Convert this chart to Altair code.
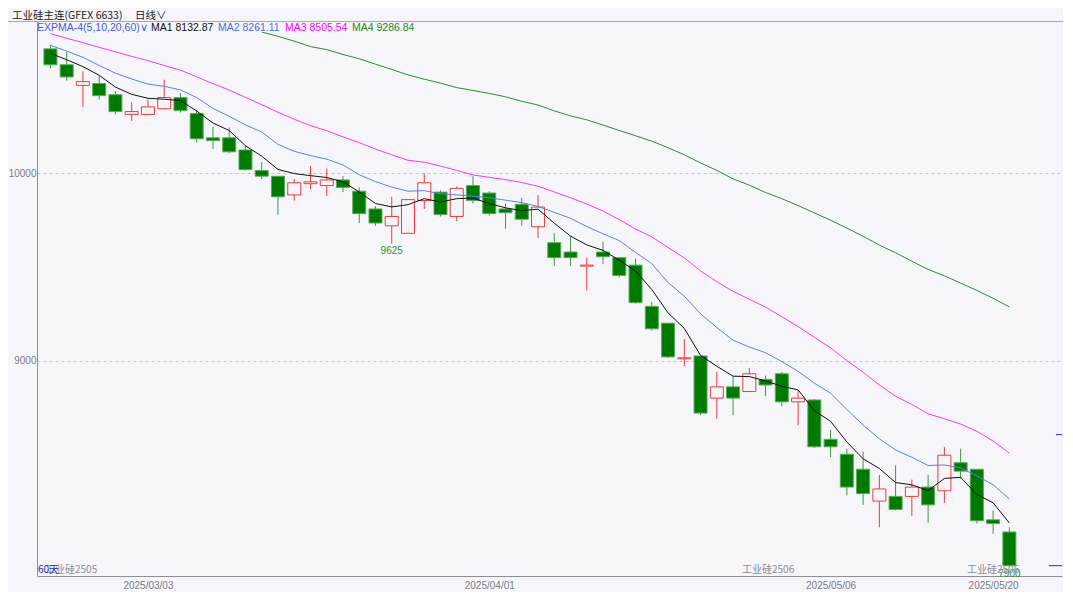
import altair as alt
import pandas as pd

# ---------------- data ----------------
dates = [
    "2025/02/21", "2025/02/24", "2025/02/25", "2025/02/26", "2025/02/27", "2025/02/28",
    "2025/03/03", "2025/03/04", "2025/03/05", "2025/03/06", "2025/03/07",
    "2025/03/10", "2025/03/11", "2025/03/12", "2025/03/13", "2025/03/14",
    "2025/03/17", "2025/03/18", "2025/03/19", "2025/03/20", "2025/03/21",
    "2025/03/24", "2025/03/25", "2025/03/26", "2025/03/27", "2025/03/28", "2025/03/31",
    "2025/04/01", "2025/04/02", "2025/04/03",
    "2025/04/07", "2025/04/08", "2025/04/09", "2025/04/10", "2025/04/11",
    "2025/04/14", "2025/04/15", "2025/04/16", "2025/04/17", "2025/04/18",
    "2025/04/21", "2025/04/22", "2025/04/23", "2025/04/24", "2025/04/25",
    "2025/04/28", "2025/04/29", "2025/04/30",
    "2025/05/06", "2025/05/07", "2025/05/08", "2025/05/09",
    "2025/05/12", "2025/05/13", "2025/05/14", "2025/05/15", "2025/05/16",
    "2025/05/19", "2025/05/20", "2025/05/21",
]

opens = [10665, 10580, 10470, 10480, 10420, 10315, 10315, 10345, 10405, 10320,
         10190, 10190, 10125, 10015, 9985, 9885, 9945, 9935, 9965, 9905,
         9810, 9720, 9680, 9855, 9900, 9770, 9935, 9895, 9810, 9835,
         9715, 9630, 9580, 9505, 9580, 9550, 9510, 9290, 9200, 9010,
         9025, 8800, 8860, 8835, 8900, 8930, 8780, 8790, 8580, 8500,
         8420, 8250, 8275, 8275, 8325, 8305, 8455, 8420, 8150, 8085]
highs = [10685, 10650, 10545, 10520, 10440, 10380, 10395, 10500, 10430, 10340,
         10250, 10245, 10150, 10060, 9985, 9970, 10040, 10025, 9985, 9925,
         9825, 9875, 9860, 10000, 9910, 9930, 9985, 9905, 9840, 9870,
         9885, 9680, 9665, 9550, 9635, 9550, 9545, 9315, 9200, 9115,
         9025, 8940, 8915, 8960, 8920, 8940, 8840, 8795, 8630, 8530,
         8515, 8390, 8440, 8365, 8390, 8540, 8530, 8420, 8200, 8110]
lows = [10560, 10495, 10355, 10395, 10315, 10280, 10315, 10345, 10325, 10165,
        10130, 10110, 10015, 9970, 9780, 9855, 9915, 9880, 9900, 9735,
        9720, 9625, 9680, 9810, 9770, 9745, 9840, 9775, 9705, 9720,
        9655, 9505, 9505, 9375, 9515, 9445, 9305, 9160, 9015, 8970,
        8710, 8690, 8710, 8835, 8810, 8755, 8655, 8535, 8485, 8280,
        8230, 8110, 8200, 8170, 8135, 8240, 8370, 8130, 8075, 7900]
closes = [10580, 10515, 10490, 10415, 10330, 10330, 10355, 10405, 10335, 10185,
          10175, 10115, 10020, 9985, 9875, 9950, 9955, 9965, 9925, 9785,
          9735, 9770, 9860, 9950, 9780, 9920, 9855, 9785, 9790, 9755,
          9820, 9550, 9550, 9510, 9555, 9455, 9310, 9170, 9020, 9015,
          8720, 8860, 8800, 8930, 8870, 8780, 8800, 8540, 8540, 8325,
          8290, 8315, 8205, 8325, 8230, 8495, 8410, 8145, 8130, 7905]

ema5 = [10641, 10607, 10570, 10524, 10461, 10422, 10401, 10396, 10389, 10333,
        10269, 10229, 10148, 10092, 10021, 9999, 9988, 9978, 9955, 9901,
        9839, 9821, 9833, 9865, 9847, 9865, 9868, 9839, 9816, 9801,
        9809, 9734, 9665, 9618, 9589, 9536, 9479, 9380, 9255, 9172,
        9028, 8970, 8917, 8915, 8892, 8863, 8844, 8733, 8676, 8566,
        8476, 8424, 8349, 8337, 8306, 8371, 8377, 8285, 8241, 8132.87]
ema10 = [10684, 10653, 10620, 10576, 10535, 10504, 10477, 10465, 10446, 10405,
         10347, 10305, 10259, 10221, 10155, 10118, 10095, 10076, 10045, 9993,
         9956, 9927, 9905, 9908, 9891, 9885, 9878, 9870, 9857, 9844,
         9823, 9792, 9760, 9716, 9677, 9641, 9578, 9518, 9417, 9344,
         9250, 9177, 9109, 9073, 9042, 8995, 8943, 8880, 8826, 8740,
         8656, 8583, 8523, 8484, 8440, 8443, 8427, 8385, 8337, 8261.11]
ema20 = [10746, 10722, 10698, 10673, 10649, 10625, 10602, 10576, 10551, 10516,
         10479, 10445, 10406, 10367, 10326, 10289, 10255, 10228, 10195, 10164,
         10130, 10099, 10070, 10060, 10039, 10016, 9992, 9979, 9967, 9951,
         9931, 9901, 9870, 9836, 9799, 9753, 9703, 9661, 9604, 9549,
         9479, 9422, 9370, 9328, 9286, 9234, 9182, 9125, 9068, 9000,
         8938, 8870, 8810, 8766, 8716, 8690, 8661, 8623, 8571, 8505.54]
ema60_start = 13
ema60_visible = [10755, 10732, 10706, 10677, 10661, 10635, 10612, 10583, 10555, 10526,
                 10503, 10482, 10458, 10443, 10427, 10409, 10385, 10365, 10334, 10307,
                 10286, 10258, 10229, 10201, 10172, 10137, 10099, 10056, 10016, 9971,
                 9937, 9898, 9865, 9828, 9789, 9750, 9708, 9664, 9617, 9576,
                 9531, 9487, 9453, 9414, 9375, 9333, 9286.84]

y_ticks = [9000, 10000]
tick_dates = ["2025/03/03", "2025/04/01", "2025/05/06", "2025/05/20"]
low_marks = [21, 59]
contract_labels = ["工业硅2505", "工业硅2506", "工业硅2506"]
right_marks = [8605, 7905]

# ---------------- styling ----------------
BG = "#f5f5fa"
RED = "#f03a3a"
GREEN_FILL = "#007a00"
GREEN_EDGE = "#5aaa5a"
GREEN_WICK = "#3d983d"
C_EMA5 = "#111111"
C_EMA10 = "#5a7ff0"
C_EMA20 = "#ff33ff"
C_EMA60 = "#2e8b2e"
GRAY_TXT = "#7c7c84"
AXIS_GRAY = "#8e8e96"

PLOT_W = 1025
PLOT_H = 544

n = len(dates)
df = pd.DataFrame({
    "i": list(range(n)),
    "date": dates,
    "open": opens, "high": highs, "low": lows, "close": closes,
    "dir": ["up" if c > o else "down" for o, c in zip(opens, closes)],
    "ema5": ema5, "ema10": ema10, "ema20": ema20,
    "ema60": [None] * ema60_start + ema60_visible,
})

tick_idx = [dates.index(d) for d in tick_dates]
label_expr = "".join(f"datum.value == {k} ? '{d}' : " for k, d in zip(tick_idx, tick_dates)) + "''"

xs = alt.Scale(domain=[-0.518, 61.93], nice=False, zero=False)
ys = alt.Scale(domain=[7850, 10755], nice=False, zero=False)

x_axis = alt.Axis(values=tick_idx, labelExpr=label_expr, grid=False, ticks=False,
                  domain=True, domainColor=AXIS_GRAY, labelColor=GRAY_TXT,
                  labelFont="Liberation Sans", labelFontSize=10, labelPadding=4,
                  title=None, labelFlush=False)
y_axis = alt.Axis(values=y_ticks, format="d", grid=True, gridColor="#c6c6ce", gridDash=[3, 3],
                  ticks=False, domain=False, labelColor=GRAY_TXT,
                  labelFont="Liberation Sans", labelFontSize=10, labelPadding=1, title=None)

X = alt.X("i:Q", scale=xs, axis=x_axis)


def Y(field):
    return alt.Y(f"{field}:Q", scale=ys, axis=y_axis)


base = alt.Chart(df)

wicks = base.mark_rule(strokeWidth=1).encode(
    x=X, y=Y("low"), y2="high:Q",
    color=alt.Color("dir:N", scale=alt.Scale(domain=["up", "down"], range=[RED, GREEN_WICK]), legend=None),
)
bodies = base.mark_bar(size=13, strokeWidth=1).encode(
    x=X, y=Y("open"), y2="close:Q",
    fill=alt.Fill("dir:N", scale=alt.Scale(domain=["up", "down"], range=[BG, GREEN_FILL]), legend=None),
    stroke=alt.Stroke("dir:N", scale=alt.Scale(domain=["up", "down"], range=[RED, GREEN_EDGE]), legend=None),
)

lines = [
    base.mark_line(color=col, strokeWidth=1, clip=True).encode(x=X, y=Y(name))
    for name, col in [("ema60", C_EMA60), ("ema20", C_EMA20), ("ema10", C_EMA10), ("ema5", C_EMA5)]
]

lowlab_df = pd.DataFrame({"i": low_marks, "v": [lows[k] for k in low_marks],
                          "t": [str(lows[k]) for k in low_marks]})
low_labels = alt.Chart(lowlab_df).mark_text(
    baseline="middle", align="center", dy=7, color="#2f8f2f",
    font="Liberation Sans", fontSize=10).encode(x=X, y=Y("v"), text="t:N")

rm_df = pd.DataFrame({"v": right_marks})
rmark_hi = alt.Chart(rm_df.iloc[:1]).mark_rule(color="#2a2ab8", strokeWidth=1).encode(
    x=alt.value(PLOT_W - 6), x2=alt.value(PLOT_W), y=Y("v"))
rmark_lo = alt.Chart(rm_df.iloc[1:]).mark_rule(color="#2a2ab8", strokeWidth=1).encode(
    x=alt.value(PLOT_W - 13), x2=alt.value(PLOT_W), y=Y("v"))


def label(txt, x, y, color, size=10.0, font="Noto Sans CJK SC", align="left"):
    return alt.Chart(pd.DataFrame({"t": [txt]})).mark_text(
        align=align, baseline="alphabetic", color=color, fontSize=size, font=font
    ).encode(x=alt.value(x), y=alt.value(y), text="t:N")


one = pd.DataFrame({"a": [0]})
header_rule = alt.Chart(one).mark_rule(color="#a9a9b3", strokeWidth=1).encode(
    x=alt.value(-29), x2=alt.value(PLOT_W + 1), y=alt.value(-10.5))
left_rule = alt.Chart(one).mark_rule(color=AXIS_GRAY, strokeWidth=1).encode(
    x=alt.value(0.5), y=alt.value(-10), y2=alt.value(PLOT_H))

bottom_y = PLOT_H - 3
texts = [
    label("工业硅主连(GFEX 6633)", -25, -13, "#222222", 10.5),
    label("日线∨", 98, -13, "#222222", 10.5),
    label("EXPMA-4(5,10,20,60)∨", 0, -1, "#3d5fd9", 10.5, "Liberation Sans"),
    label(f"MA1 {ema5[-1]:.2f}", 114, -1, "#111111", 10.5, "Liberation Sans"),
    label(f"MA2 {ema10[-1]:.2f}", 181, -1, "#4a6fe3", 10.5, "Liberation Sans"),
    label(f"MA3 {ema20[-1]:.2f}", 248, -1, "#ff00ff", 10.5, "Liberation Sans"),
    label(f"MA4 {ema60_visible[-1]:.2f}", 315, -1, "#1f8a1f", 10.5, "Liberation Sans"),
    label(contract_labels[0], 8, bottom_y, "#8c8c94", 10),
    label(contract_labels[1], 705, bottom_y, "#8c8c94", 10),
    label(contract_labels[2], 930, bottom_y, "#8c8c94", 10),
    label(f"{n}天", 1, bottom_y, "#1f1fd0", 10),
]

chart = alt.layer(
    wicks, bodies, *lines, low_labels, rmark_hi, rmark_lo,
    header_rule, left_rule, *texts
).properties(
    width=PLOT_W, height=PLOT_H,
    padding={"left": 29, "top": 24, "right": 1, "bottom": 16},
    autosize=alt.AutoSizeParams(type="none"),
).configure(background=BG).configure_view(strokeWidth=0)

chart.save("out.html", embed_options={"renderer": "svg", "actions": False})
